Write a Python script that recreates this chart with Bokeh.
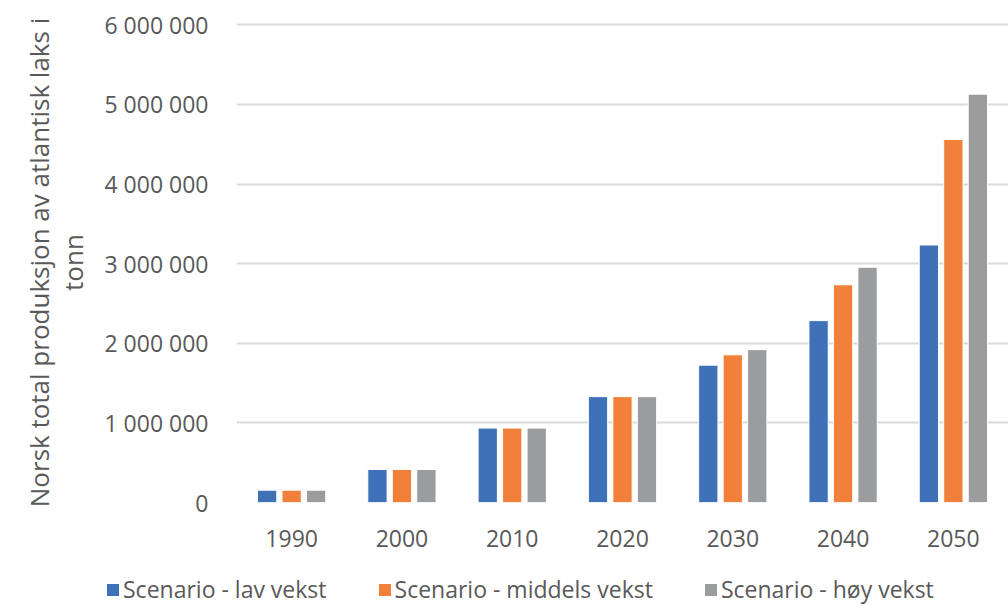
from bokeh.plotting import figure
from bokeh.models import ColumnDataSource, FactorRange, Range1d, FixedTicker, Legend, LegendItem
from bokeh.transform import dodge
from bokeh.embed import file_html
from bokeh.resources import INLINE

years = ["1990", "2000", "2010", "2020", "2030", "2040", "2050"]
lav_vekst = [155000, 415000, 935000, 1330000, 1725000, 2285000, 3235000]
middels_vekst = [155000, 415000, 935000, 1330000, 1855000, 2735000, 4560000]
hoy_vekst = [155000, 415000, 935000, 1330000, 1920000, 2955000, 5130000]
series_names = ["Scenario - lav vekst", "Scenario - middels vekst", "Scenario - høy vekst"]
y_ticks = [0, 1000000, 2000000, 3000000, 4000000, 5000000, 6000000]

colors = ["#3f71b8", "#f0803a", "#9a9c9e"]
text_color = "#595959"
font = "Open Sans"
fields = ["lav", "middels", "hoy"]
offsets = [-0.222, 0.0, 0.222]

source = ColumnDataSource(dict(year=years, lav=lav_vekst, middels=middels_vekst, hoy=hoy_vekst))

# main bar chart
p = figure(
    width=1008, height=560,
    x_range=FactorRange(*years, range_padding=0),
    y_range=Range1d(0, 6030000),
    output_backend="svg", toolbar_location=None,
    min_border_left=236, min_border_right=0, min_border_top=22, min_border_bottom=58,
)
p.outline_line_color = None
p.background_fill_color = "white"
p.border_fill_color = "white"

for field, off, col in zip(fields, offsets, colors):
    p.vbar(x=dodge("year", off, range=p.x_range), top=field, width=0.175,
           bottom=0, source=source, fill_color=col, line_color="white", line_width=1)

# y axis
p.yaxis.ticker = FixedTicker(ticks=y_ticks)
p.yaxis.major_label_overrides = {t: f"{t:,}".replace(",", " ") for t in y_ticks}
p.yaxis.axis_line_color = None
p.yaxis.major_tick_line_color = None
p.yaxis.minor_tick_line_color = None
p.yaxis.major_label_text_font = font
p.yaxis.major_label_text_font_size = "23px"
p.yaxis.major_label_text_color = text_color
p.yaxis.major_label_standoff = 22
p.yaxis.axis_label = "Norsk total produksjon av atlantisk laks i\ntonn"
p.yaxis.axis_label_text_font = font
p.yaxis.axis_label_text_font_size = "26px"
p.yaxis.axis_label_text_font_style = "normal"
p.yaxis.axis_label_text_color = text_color
p.yaxis.axis_label_text_line_height = 0.95
p.yaxis.axis_label_standoff = 10

# x axis
p.xaxis.axis_line_color = None
p.xaxis.major_tick_line_color = None
p.xaxis.minor_tick_line_color = None
p.xaxis.major_label_text_font = font
p.xaxis.major_label_text_font_size = "23px"
p.xaxis.major_label_text_color = text_color
p.xaxis.major_label_standoff = 21

p.xgrid.grid_line_color = None
p.ygrid.grid_line_color = "#d9d9d9"
p.ygrid.grid_line_width = 2

# legend strip below the chart
leg = figure(
    width=1008, height=45,
    x_range=FactorRange(*years, range_padding=0), y_range=Range1d(0, 1),
    x_axis_type=None, y_axis_type=None,
    output_backend="svg", toolbar_location=None,
    min_border=0,
)
leg.outline_line_color = None
leg.grid.visible = False
swatches = [leg.vbar(x="year", top=field, width=0.175, source=source, visible=False,
                     fill_color=col, line_color=None)
            for field, col in zip(fields, colors)]

legend = Legend(
    items=[LegendItem(label=n, renderers=[r]) for n, r in zip(series_names, swatches)],
    orientation="horizontal", location=(105, 0),
    glyph_width=15, glyph_height=15, label_standoff=3, spacing=50,
    padding=0, margin=0, border_line_alpha=0, background_fill_alpha=0,
    label_text_font=font, label_text_font_size="23px", label_text_color=text_color,
)
leg.add_layout(legend, "center")

open("out.html", "w").write(file_html([p, leg], INLINE))
